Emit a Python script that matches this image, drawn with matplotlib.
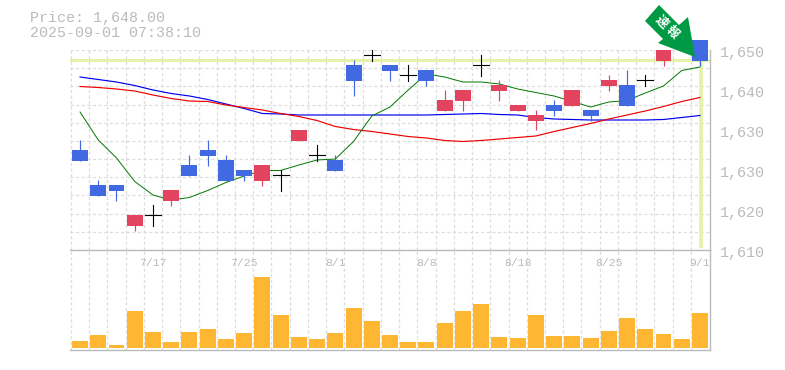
#!/usr/bin/env python3

import numpy as np
import matplotlib
matplotlib.use("Agg")
import matplotlib.pyplot as plt
from matplotlib.patches import Polygon

W, H = 785, 370

# ローソク足 (open, close, high, low)  blue = down, red = up
opens = [1630, 1623, 1623, 1614.8, 1617, 1619.8, 1627, 1630, 1628, 1626, 1623.8, 1625,
         1631.8, 1629, 1628, 1647, 1649, 1647, 1645, 1646, 1637.8, 1639.8, 1647, 1641.8,
         1637.8, 1635.8, 1639, 1638.8, 1638, 1642.8, 1643, 1644, 1647.8, 1651, 1652]
closes = [1627.8, 1620.8, 1621.8, 1617, 1617, 1622, 1624.8, 1628.8, 1623.8, 1624.8, 1627, 1625,
          1634, 1629, 1625.8, 1643.8, 1649, 1645.8, 1645, 1643.8, 1640, 1642, 1647, 1643,
          1639, 1637, 1637.8, 1642, 1636.8, 1644, 1638.8, 1644, 1650, 1652, 1647.8]
highs = [1632, 1624, 1623, 1617, 1619, 1622, 1629, 1632, 1629, 1626, 1627, 1626,
         1634, 1631, 1629, 1648, 1650, 1647, 1647, 1646, 1642, 1642, 1649, 1644,
         1639, 1638, 1640, 1642, 1638, 1645, 1646, 1645, 1650, 1652, 1652]
lows = [1627.8, 1620.8, 1619.8, 1613.8, 1614.8, 1618.8, 1624.8, 1626.8, 1623.8, 1623.8, 1622.8, 1621.8,
        1631.8, 1627.8, 1625.8, 1640.8, 1647.8, 1643.8, 1643.8, 1642.8, 1637.8, 1637.8, 1644.8, 1639.8,
        1637.8, 1634, 1636.8, 1638.8, 1635.8, 1641.8, 1638.8, 1642.8, 1646.8, 1651, 1646.8]

ma_green = [1637.6, 1632, 1628.4, 1623.7, 1621, 1620, 1620.5, 1621.9, 1623.5, 1624.8, 1625.9, 1625.9,
            1627, 1628, 1628.2, 1631.7, 1636.8, 1638.6, 1642, 1645.2, 1644.6, 1643.6, 1643.6, 1643.2,
            1642.2, 1641.5, 1640.8, 1639.7, 1638.6, 1639.6, 1639.9, 1641.4, 1642.8, 1645.9, 1646.6]
ma_red = [1642.7, 1642.5, 1642.2, 1641.8, 1641, 1640.3, 1639.8, 1639.7, 1639, 1638.5, 1638, 1637.3,
          1636.7, 1635.9, 1634.7, 1634.1, 1633.7, 1633.2, 1632.7, 1632.4, 1631.9, 1631.7, 1631.9, 1632.2,
          1632.5, 1632.8, 1633.7, 1634.5, 1635.3, 1636.2, 1637, 1637.8, 1638.7, 1639.7, 1640.5]
ma_blue = [1644.6, 1644.1, 1643.6, 1642.9, 1642, 1641.3, 1640.8, 1640.1, 1639.2, 1638.3, 1637.3, 1637.2,
           1637, 1637, 1637, 1637, 1637, 1637, 1637, 1637, 1637.1, 1637.2, 1637.3, 1637.1,
           1637, 1636.5, 1636.2, 1636.1, 1636, 1636, 1636, 1636, 1636.1, 1636.5, 1636.9]

volumes = [6.7, 12.7, 2.7, 36.7, 15.7, 5.7, 15.7, 18.7, 8.7, 14.7, 70.7, 32.7, 10.7, 8.7, 14.7, 39.7, 26.7, 12.7,
           5.7, 5.7, 24.7, 36.7, 43.7, 10.7, 9.7, 32.7, 11.7, 11.7, 9.7, 16.7, 29.7, 18.7, 13.7, 8.7, 34.7]

date_pos = [4, 9, 14, 19, 24, 29, 34]
date_labels = ["7/17", "7/25", "8/1", "8/8", "8/18", "8/25", "9/1"]
price_ticks = [1650, 1642, 1634, 1626, 1618, 1610]
price_labels = ["1,650", "1,640", "1,630", "1,630", "1,620", "1,610"]
last_price = 1648

BLUE = "#4169e1"
RED = "#e2445f"
GRID = "#dddddd"
FRAME = "#bbbbbb"
TEXT = "#bbbbbb"
LIME = "#e2f3a6"
ORANGE = "#ffb733"
ARROW = "#009944"
MONO = "Liberation Mono"

plt.rcParams["font.family"] = [MONO, "Noto Sans CJK JP", "DejaVu Sans"]

fig = plt.figure(figsize=(W / 100, H / 100), dpi=100)


def add_axes(left, top, right, bottom):
    return fig.add_axes([left / W, 1 - bottom / H, (right - left) / W, (bottom - top) / H])


ax = add_axes(70, 50, 710, 250)
vol = add_axes(70, 250, 710, 350)

n = len(opens)
x = np.arange(n)
xlim = (-0.55, 34.55)

for a in (ax, vol):
    a.set_xlim(xlim)
    a.set_xticks(x[:-1] + 0.5)
    a.set_xticks([-0.5], minor=True)
    a.tick_params(which="both", length=0, labelbottom=False, labelleft=False)
    a.grid(True, which="both", color=GRID, lw=0.9, ls=(0, (2.5, 2)))
    a.set_axisbelow(True)
    a.patch.set_alpha(0)
    for s in ("top", "left"):
        a.spines[s].set_visible(False)
    for s in ("bottom", "right"):
        a.spines[s].set_color(FRAME)
        a.spines[s].set_linewidth(1)

ax.set_ylim(1610, 1650)
ax.set_yticks(np.linspace(1610, 1650, 12))
ax.set_yticks([], minor=True)
vol.set_ylim(-2, 98)
vol.set_yticks([])

# 現在値のライン
ax.axhline(last_price, color=LIME, lw=2.2, zorder=1.5)
ax.plot([n - 1 + 0.05, n - 1 + 0.05], [1610.4, last_price], color=LIME, lw=2.6, zorder=1.5,
        solid_capstyle="butt")

ax.plot(x, ma_blue, color="#0000ee", lw=0.85, zorder=2)
ax.plot(x, ma_red, color="#ee0000", lw=0.85, zorder=2)
ax.plot(x, ma_green, color="#007700", lw=0.7, zorder=2)

for i in range(n):
    o, c = opens[i], closes[i]
    if o == c:
        # 寄引同値は十字
        ax.plot([i, i], [lows[i], highs[i]], color="black", lw=0.8, zorder=3, clip_on=False)
        ax.plot([i - 0.44, i + 0.44], [o, o], color="black", lw=0.8, zorder=3, clip_on=False)
        continue
    col = RED if c > o else BLUE
    ax.plot([i, i], [lows[i], highs[i]], color=col, lw=0.85, zorder=3, clip_on=False,
            solid_capstyle="butt")
    ax.bar(i, abs(c - o), bottom=min(o, c), width=0.877, color=col, zorder=3, clip_on=False)

vol.bar(x, volumes, width=0.877, color=ORANGE, zorder=3)

for p, lab in zip(date_pos, date_labels):
    vol.annotate(lab, (p, 1), xycoords=("data", "axes fraction"), xytext=(0, -12.5),
                 textcoords="offset pixels", ha="center", va="center",
                 color=TEXT, fontsize=8.2)

for p, lab in zip(price_ticks, price_labels):
    ax.annotate(lab, (1, p), xycoords=("axes fraction", "data"), xytext=(10, -3),
                textcoords="offset pixels", ha="left", va="center",
                color=TEXT, fontsize=10.8, zorder=5, annotation_clip=False)

fig.text(30 / W, 1 - 18 / H, "Price: 1,648.00", color=TEXT, fontsize=10.8, va="center")
fig.text(30 / W, 1 - 33 / H, "2025-09-01 07:38:10", color=TEXT, fontsize=10.8, va="center")

# 速報の矢印
arrow_px = [(645, 21), (659, 5), (679, 25), (688, 17), (695, 57), (658, 43), (663, 39)]
arrow_fig = [(px / W, 1 - py / H) for px, py in arrow_px]
fig.add_artist(Polygon(arrow_fig, closed=True, transform=fig.transFigure, color=ARROW, zorder=6, lw=0))
fig.text(661 / W, 1 - 22 / H, "速", color="white", fontsize=9, fontweight="bold",
         rotation=-45, ha="center", va="center", zorder=7)
fig.text(672 / W, 1 - 33 / H, "報", color="white", fontsize=9, fontweight="bold",
         rotation=-45, ha="center", va="center", zorder=7)

fig.savefig("out.png", dpi=100)
